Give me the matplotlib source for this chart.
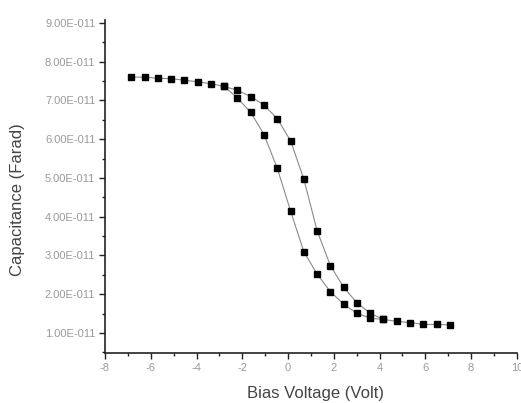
import numpy as np
import matplotlib
matplotlib.use("Agg")
import matplotlib.pyplot as plt
from matplotlib.ticker import MultipleLocator, FuncFormatter

# ── Data (capacitance in units of 1e-11 F) ────────────────────────────────────
volt_up = [-6.85, -6.27, -5.69, -5.11, -4.53, -3.95, -3.37, -2.79, -2.21, -1.63,
           -1.05, -0.47, 0.11, 0.69, 1.27, 1.85, 2.43, 3.01, 3.59, 4.17,
           4.75, 5.33, 5.91, 6.49, 7.07]
cap_up = [7.60, 7.60, 7.57, 7.56, 7.52, 7.48, 7.43, 7.36, 7.26, 7.10,
          6.88, 6.53, 5.96, 4.97, 3.64, 2.74, 2.18, 1.78, 1.51, 1.35,
          1.30, 1.27, 1.22, 1.22, 1.21]

volt_down = [-2.79, -2.21, -1.63, -1.05, -0.47, 0.11, 0.69, 1.27, 1.85, 2.43,
             3.01, 3.59, 4.17]
cap_down = [7.36, 7.06, 6.69, 6.12, 5.25, 4.15, 3.10, 2.52, 2.07, 1.74,
            1.51, 1.38, 1.35]

SCALE = 1e-11

plt.rcParams["font.family"] = ["Liberation Sans", "DejaVu Sans"]

fig = plt.figure(figsize=(5.21, 4.03), dpi=100)
ax = fig.add_axes([0.2015, 0.124, 0.7905, 0.826])

for v, c in [(volt_up, cap_up), (volt_down, cap_down)]:
    ax.plot(v, np.array(c) * SCALE, color="#8a8a8a", lw=0.8, zorder=1)
    ax.plot(v, np.array(c) * SCALE, ls="none", marker="s", ms=4.2,
            color="black", zorder=2)

ax.set_xlim(-8, 10)
ax.set_ylim(0.483e-11, 9.07e-11)

ax.xaxis.set_major_locator(MultipleLocator(2))
ax.xaxis.set_minor_locator(MultipleLocator(1))
ax.yaxis.set_major_locator(MultipleLocator(1e-11))
ax.yaxis.set_minor_locator(MultipleLocator(0.5e-11))
ax.yaxis.set_major_formatter(FuncFormatter(
    lambda y, p: "" if y < 0.9e-11 else f"{y / 1e-11:.2f}E-011"))
ax.xaxis.set_major_formatter(FuncFormatter(lambda x, p: f"{x:g}"))

for s in ["top", "right"]:
    ax.spines[s].set_visible(False)
for s in ["left", "bottom"]:
    ax.spines[s].set_linewidth(1.2)
    ax.spines[s].set_color("#222222")

ax.tick_params(which="major", direction="out", length=4, width=1,
               color="#222222", labelsize=8, labelcolor="#9a9a9a", pad=3)
ax.tick_params(which="minor", direction="out", length=2.5, width=1,
               color="#222222")

ax.set_xlabel("Bias Voltage (Volt)", fontsize=12, color="#444444")
ax.set_ylabel("Capacitance (Farad)", fontsize=12, color="#444444")
ax.xaxis.set_label_coords(0.51, -0.098)
ax.yaxis.set_label_coords(-0.193, 0.46)

fig.savefig("out.png", dpi=100)
